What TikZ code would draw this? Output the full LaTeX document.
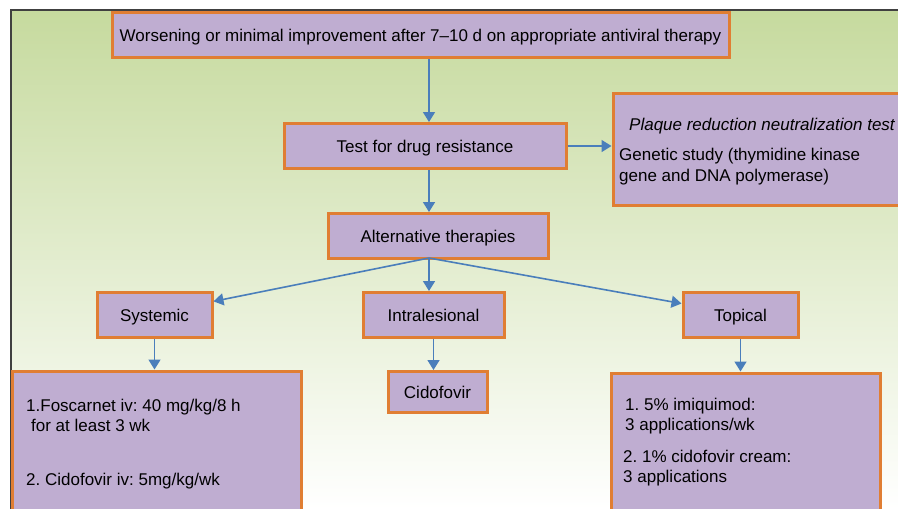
\documentclass[tikz,border=0pt]{standalone}
\usepackage{fontspec}
\setmainfont{Liberation Sans}
\usetikzlibrary{arrows.meta,positioning,calc}

\definecolor{boxfill}{HTML}{BFADD1}
\definecolor{boxline}{HTML}{E07E33}
\definecolor{arrowblue}{HTML}{4A7EBB}
\definecolor{bgtop}{HTML}{C6DA9E}
\newcommand{\flowfont}{\fontsize{17}{20}\selectfont\frenchspacing}

\begin{document}
\begin{tikzpicture}[x=1pt,y=-1pt,
    box/.style={draw=boxline, line width=3pt, fill=boxfill, inner sep=0pt, text depth=0pt, font=\flowfont},
    arr/.style={draw=arrowblue, line width=1.6pt, -{Triangle[width=12pt,length=10pt]}},
    txt/.style={anchor=base west, inner sep=0pt, font=\flowfont}]
    \useasboundingbox (0,0) rectangle (898,509);
    \clip (0,0) rectangle (898,509);

    % background panel
    \shade[top color=bgtop, bottom color=white] (11,10) rectangle (898,509);
    \draw[line width=1.2pt, black!75] (11,509) -- (11,10) -- (898,10);

    % main column
    \node[box, minimum width=617, minimum height=45] (worse) at (420.5,35)
        {Worsening or minimal improvement after 7--10 d on appropriate antiviral therapy};
    \node[box, minimum width=282, minimum height=45] (test) at (425,146) {Test for drug resistance};
    \node[box, minimum width=220, minimum height=45] (alt) at (438,236) {Alternative therapies};
    \coordinate (split) at (429,258);

    % resistance tests
    \node[box, minimum width=300, minimum height=112] (plaque) at (763,149) {};
    \node[txt, font=\flowfont\itshape] (prnt) at (629,130) {Plaque reduction neutralization test};
    \node[txt] (gen1) at (619,160) {Genetic study (thymidine kinase};
    \node[txt] (gen2) at (619,181) {gene and DNA polymerase)};

    % three routes
    \node[box, minimum width=115, minimum height=45] (sys) at (154.5,315) {Systemic};
    \node[box, minimum width=141, minimum height=45] (intra) at (433.5,315) {Intralesional};
    \node[box, minimum width=115, minimum height=45] (top) at (740.5,315) {Topical};

    % drugs
    \node[box, minimum width=289, minimum height=170] (sysdet) at (156.5,456) {};
    \node[txt] (fos1) at (26,411) {1.Foscarnet iv: 40 mg/kg/8 h};
    \node[txt] (fos2) at (31,431) {for at least 3 wk};
    \node[txt] (cdv) at (26,485) {2. Cidofovir iv: 5mg/kg/wk};

    \node[box, minimum width=99, minimum height=41] (cido) at (437.5,392) {Cidofovir};

    \node[box, minimum width=269, minimum height=170] (topdet) at (745.5,458) {};
    \node[txt] (imq1) at (625,410) {1. 5\% imiquimod:};
    \node[txt] (imq2) at (625,430) {3 applications/wk};
    \node[txt] (cream1) at (623,462) {2. 1\% cidofovir cream:};
    \node[txt] (cream2) at (623,482) {3 applications};

    % arrows
    \draw[arr] (split |- worse.south) -- (split |- test.north);
    \draw[arr] (split |- test.south) -- (split |- alt.north);
    \draw[arr] (test.east) -- (test.east -| plaque.west);
    \draw[arr] (split) -- (sys.13);
    \draw[arr] (split) -- (split |- intra.north);
    \draw[arr] (split) -- (top.169);
    \draw[arr] (sys.south) -- (sys.south |- sysdet.north);
    \draw[arr] (intra.south) -- (intra.south |- cido.north);
    \draw[arr] (top.south) -- (top.south |- topdet.north);
\end{tikzpicture}
\end{document}
